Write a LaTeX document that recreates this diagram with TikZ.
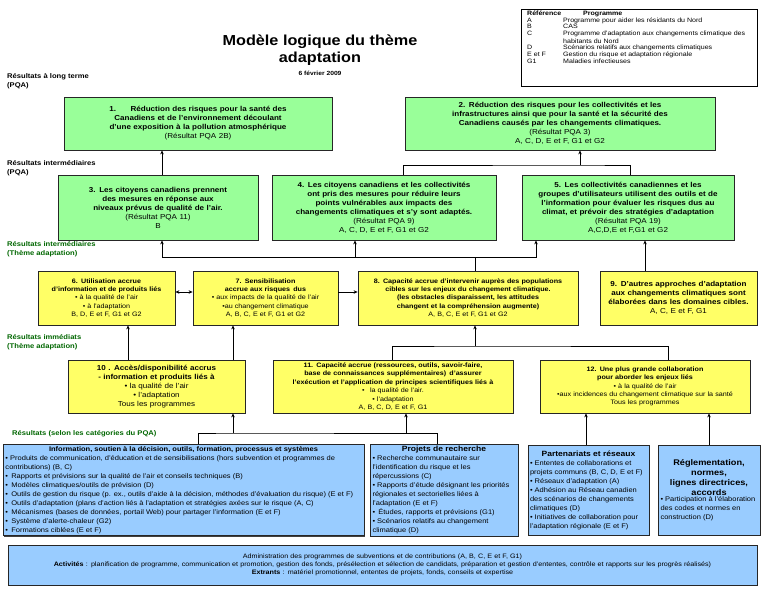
\documentclass[tikz,border=0pt]{standalone}
\usepackage{fontspec}
\usepackage{array}
\setmainfont{Liberation Sans}[FakeStretch=1.12]
\usetikzlibrary{shadows,arrows.meta}
\definecolor{gfill}{HTML}{99FF99}
\definecolor{yfill}{HTML}{FFFF66}
\definecolor{bfill}{HTML}{99CCFF}
\definecolor{dgreen}{HTML}{006600}
\hyphenpenalty=10000
\begin{document}
\begin{tikzpicture}[x=1pt,y=-1pt,
  box/.style={draw=black!85,line width=0.8pt,drop shadow={shadow xshift=1.2pt,shadow yshift=-1.2pt,fill=black!75,opacity=1},inner sep=2pt,align=center,font=\fontsize{7.2}{9}\selectfont\bfseries},
  gbox/.style={box,fill=gfill},
  ybox/.style={box,fill=yfill},
  sm/.style={font=\fontsize{6.4}{8.4}\selectfont\bfseries},
  bbox/.style={box,fill=bfill,align=flush left,font=\fontsize{6.7}{9}\selectfont},
  lab/.style={anchor=north west,align=left,inner sep=0pt,font=\fontsize{6.8}{9.5}\selectfont\bfseries},
  glab/.style={lab,text=dgreen},
  arr/.style={-{Stealth[length=4pt,width=3.5pt]},line width=0.6pt},
  ln/.style={line width=0.6pt}]
\useasboundingbox (0,0) rectangle (765,593);
% title
\node[align=center,font=\fontsize{14.5}{17}\selectfont\bfseries] (title) at (320,50) {Modèle logique du thème\\adaptation};
\node[font=\fontsize{6}{7}\selectfont\bfseries] (date) at (320,73) {6 février 2009};
% legend
\draw[line width=0.8pt] (521,9) rectangle (757,86);
\node[lab,font=\fontsize{6.3}{7.8}\selectfont] (leg) at (527,10) {%
\begin{tabular}{@{}>{\raggedright\arraybackslash}p{34pt}@{\hspace{2pt}}>{\raggedright\arraybackslash}p{182pt}@{}}
\textbf{Référence} & \hspace{20pt}\textbf{Programme}\\[-1.2pt]
A & Programme pour aider les résidants du Nord\\[-1.2pt]
B & CAS\\[-1.2pt]
C & Programme d'adaptation aux changements climatique des habitants du Nord\\[-1.2pt]
D & Scénarios relatifs aux changements climatiques\\[-1.2pt]
E et F & Gestion du risque et adaptation régionale\\[-1.2pt]
G1 & Maladies infectieuses
\end{tabular}};
% level labels
\node[lab] (l1) at (7,73) {Résultats à long terme\\(PQA)};
\node[lab] (l2) at (7,160) {Résultats intermédiaires\\(PQA)};
\node[glab] (l3) at (7,241) {Résultats intermédiaires\\(Thème adaptation)};
\node[glab] (l4) at (7,334) {Résultats immédiats\\(Thème adaptation)};
\node[glab] (l5) at (12,430) {Résultats (selon les catégories du PQA)};
% long term
\node[gbox,minimum width=268,minimum height=53,text width=245] (b1) at (198,123.5) {1.\qquad Réduction des risques pour la santé des Canadiens et de l'environnement découlant d'une exposition à la pollution atmosphérique\\ \mdseries(Résultat PQA 2B)\\[6pt]};
\node[gbox,minimum width=310,minimum height=53,text width=300] (b2) at (560,123.5) {2. Réduction des risques pour les collectivités et les infrastructures ainsi que pour la santé et la sécurité des Canadiens causés par les changements climatiques.\\ \mdseries(Résultat PQA 3)\\ \mdseries A, C, D, E et F, G1 et G2};
% intermediate PQA
\node[gbox,minimum width=200,minimum height=65,text width=175] (b3) at (158,207.5) {3. Les citoyens canadiens prennent des mesures en réponse aux niveaux prévus de qualité de l'air.\\ \mdseries(Résultat PQA 11)\\ \mdseries B\\[8pt]};
\node[gbox,minimum width=224,minimum height=65,text width=216] (b4) at (384,207.5) {4. Les citoyens canadiens et les collectivités ont pris des mesures pour réduire leurs points vulnérables aux impacts des changements climatiques et s'y sont adaptés.\\ \mdseries(Résultat PQA 9)\\ \mdseries A, C, D, E et F, G1 et G2};
\node[gbox,minimum width=212,minimum height=65,text width=206] (b5) at (628,207.5) {5. Les collectivités canadiennes et les groupes d'utilisateurs utilisent des outils et de l'information pour évaluer les risques dus au climat, et prévoir des stratégies d'adaptation\\ \mdseries(Résultat PQA 19)\\ \mdseries A,C,D,E et F,G1 et G2};
% intermediate theme
\node[ybox,sm,minimum width=137,minimum height=54,text width=128] (b6) at (106.5,298) {6. Utilisation accrue d'information et de produits liés\\ \mdseries• à la qualité de l'air\\ \mdseries• à l'adaptation\\ \mdseries B, D, E et F, G1 et G2};
\node[ybox,sm,minimum width=145,minimum height=54,text width=136] (b7) at (265.5,298) {7. Sensibilisation accrue aux risques\enspace dus\\ \mdseries• aux impacts de la qualité de l'air\\ \mdseries•au changement climatique\\ \mdseries A, B, C, E et F, G1 et G2};
\node[ybox,sm,minimum width=220,minimum height=54,text width=214] (b8) at (468,298) {8. Capacité accrue d'intervenir auprès des populations cibles sur les enjeux du changement climatique.\\ (les obstacles disparaissent, les attitudes changent et la compréhension augmente)\\ \mdseries A, B, C, E et F, G1 et G2};
\node[ybox,minimum width=157,minimum height=54,text width=150] (b9) at (678.5,298) {9. D'autres approches d'adaptation aux changements climatiques sont élaborées dans les domaines cibles.\\ \mdseries A, C, E et F, G1};
% immediate
\node[ybox,minimum width=177,minimum height=53,text width=160] (b10) at (156.5,386.5) {10 . Accès/disponibilité accrus - information et produits liés à\\ \mdseries• la qualité de l'air\\ \mdseries• l'adaptation\\ \mdseries Tous les programmes};
\node[ybox,sm,minimum width=240,minimum height=53,text width=234] (b11) at (393,386.5) {11. Capacité accrue (ressources, outils, savoir-faire, base de connaissances supplémentaires)\enspace d'assurer l'exécution et l'application de principes scientifiques liés à\\ \mdseries• \enspace la qualité de l'air.\\ \mdseries• l'adaptation\\ \mdseries A, B, C, D, E et F, G1};
\node[ybox,sm,minimum width=210,minimum height=53,text width=200] (b12) at (645,386.5) {12. Une plus grande collaboration pour aborder les enjeux liés\\ \mdseries• à la qualité de l'air\\ \mdseries•aux incidences du changement climatique sur la santé\\ \mdseries Tous les programmes\\[4pt]};
% outputs
\node[bbox,minimum width=361,minimum height=90,text width=356] (b13) at (183.5,490) {\makebox[\linewidth][c]{\bfseries Information, soutien à la décision, outils, formation, processus et systèmes}\\
• Produits de communication, d'éducation et de sensibilisations (hors subvention et programmes de contributions) (B, C)\\
• \,Rapports et prévisions sur la qualité de l'air et conseils techniques (B)\\
• \,Modèles climatiques/outils de prévision (D)\\
• \,Outils de gestion du risque (p. ex., outils d'aide à la décision, méthodes d'évaluation du risque) (E et F)\\
• \,Outils d'adaptation (plans d'action liés à l'adaptation et stratégies axées sur le risque (A, C)\\
• \,Mécanismes (bases de données, portail Web) pour partager l'information (E et F)\\
• \,Système d'alerte-chaleur (G2)\\
• \,Formations ciblées (E et F)};
\node[bbox,minimum width=148,minimum height=90,text width=143] (b14) at (444,490) {\makebox[\linewidth][c]{\fontsize{7.6}{9}\selectfont\bfseries Projets de recherche}\\
• Recherche communautaire sur l'identification du risque et les répercussions (C)\\
• Rapports d'étude désignant les priorités régionales et sectorielles liées à l'adaptation (E et F)\\
• \,Études, rapports et prévisions (G1)\\
• Scénarios relatifs au changement climatique (D)};
\node[bbox,minimum width=121,minimum height=90,text width=117] (b15) at (588.5,490) {\makebox[\linewidth][c]{\fontsize{7.6}{9}\selectfont\bfseries Partenariats et réseaux}\\
• Ententes de collaborations et projets communs (B, C, D, E et F)\\
• Réseaux d'adaptation (A)\\
• Adhésion au Réseau canadien des scénarios de changements climatiques (D)\\
• Initiatives de collaboration pour l'adaptation régionale (E et F)\\[4pt]};
\node[bbox,minimum width=102,minimum height=90,text width=97] (b16) at (709,490) {\parbox{\linewidth}{\centering\fontsize{8.2}{10}\selectfont\bfseries Réglementation,\\ normes,\\ lignes directrices,\\ accords}\\
• Participation à l'élaboration des codes et normes en construction (D)\\[10pt]};
\node[box,fill=bfill,minimum width=749,minimum height=40,text width=740,font=\fontsize{6.4}{8}\selectfont] (b17) at (382.5,565) {Administration des programmes de subventions et de contributions (A, B, C, E et F, G1)\\ \textbf{Activités} : planification de programme, communication et promotion, gestion des fonds, présélection et sélection de candidats, préparation et gestion d'ententes, contrôle et rapports sur les progrès réalisés)\\ \textbf{Extrants} : matériel promotionnel, ententes de projets, fonds, conseils et expertise};
% connectors
\coordinate (j1) at (580,165);
\coordinate (j2) at (475,257);
\coordinate (j3) at (475,346);
\coordinate (j4) at (233,433);
\draw[arr] (b3.north -| 162,0) -- (b1.south -| 162,0);
\draw[ln] (b4.north -| 403,0) |- (j1) -| (b5.north -| 630,0);
\draw[arr] (j1) -- (b2.south -| j1);
\draw[ln] (b8.north -| j2) -- (j2);
\draw[arr] (j2) -| (b3.south -| 162,0);
\draw[arr] (j2) -| (b4.south -| 355,0);
\draw[arr] (j2) -| (b5.south -| 536,0);
\draw[arr] (b9.north -| 645,0) -- (b5.south -| 645,0);
\draw[{Stealth[length=4pt,width=3.5pt]}-{Stealth[length=4pt,width=3.5pt]},line width=0.6pt] (b6.east |- 0,292) -- (b7.west |- 0,292);
\draw[arr] (b7.east |- 0,292) -- (b8.west |- 0,292);
\draw[arr] (b10.north -| 128,0) -- (b6.south -| 128,0);
\draw[arr] (b10.north -| 233,0) -- (b7.south -| 233,0);
\draw[ln] (b11.north -| 392,0) |- (j3) -| (b12.north -| 668,0);
\draw[arr] (j3) -- (b8.south -| j3);
\draw[ln] (b13.north -| 198,0) |- (j4) -| (b14.north -| 437,0);
\draw[arr] (j4) -- (b10.south -| j4);
\draw[arr] (406,433) -- (b11.south -| 406,0);
\draw[arr] (b15.north -| 586,0) -- (b12.south -| 586,0);
\draw[arr] (b16.north -| 709,0) -- (b12.south -| 709,0);
\end{tikzpicture}
\end{document}
